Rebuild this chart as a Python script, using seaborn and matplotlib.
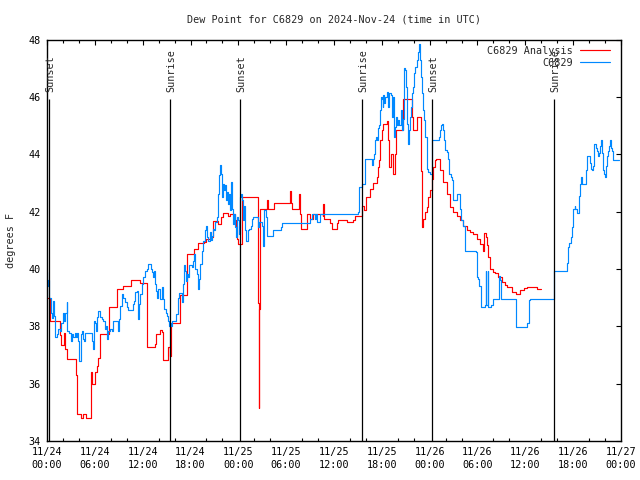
import matplotlib
matplotlib.use("Agg")
import matplotlib.pyplot as plt
from matplotlib.ticker import FixedLocator
import seaborn as sns
import pandas as pd

# ---------------- data (hours since 11/24 00:00 UTC, degrees F) ----------------
analysis_hours = [0.0, 0.35, 1.6, 1.8, 2.1, 2.3, 2.55, 3.64, 3.8, 4.3, 4.5, 4.85, 5.48, 5.65, 6.05, 6.3,
                  6.45, 6.6, 7.82, 8.82, 9.58, 10.5, 11.67, 12.6, 13.55, 13.7, 14.2, 14.45, 14.6, 15.14,
                  15.42, 15.52, 16.69, 17.6, 18.44, 18.99, 19.7, 19.95, 20.4, 20.79, 21.5, 21.83, 22.12,
                  22.75, 22.96, 23.59, 23.75, 23.88, 24.0, 24.5, 26.5, 26.55, 26.62, 26.7, 27.56, 27.77,
                  28.48, 29.65, 30.45, 30.6, 30.7, 31.55, 31.7, 31.83, 32.58, 33.0, 33.42, 34.6, 34.67,
                  34.8, 35.5, 35.72, 36.35, 36.55, 37.6, 38.43, 38.64, 39.48, 39.77, 40.03, 40.53, 40.94,
                  41.36, 41.49, 41.61, 41.78, 41.99, 42.2, 42.7, 42.83, 42.95, 43.12, 43.37, 43.66, 43.79,
                  44.7, 45.76, 45.88, 46.46, 46.89, 47.0, 47.22, 47.43, 47.64, 47.85, 48.06, 48.26, 48.47,
                  48.68, 48.8, 49.31, 49.73, 50.15, 50.56, 50.98, 51.4, 51.82, 52.23, 52.66, 53.1, 53.49,
                  53.91, 54.33, 54.74, 54.8, 55.04, 55.17, 55.37, 55.58, 55.9, 56.21, 56.63, 57.05, 57.4,
                  57.68, 58.31, 58.8, 59.35, 59.8, 60.19, 61.02, 61.5, 61.94]
analysis_values = [39.0, 38.2, 37.7, 37.35, 37.75, 37.2, 36.85, 36.3, 34.93, 34.8, 34.95, 34.8, 36.4, 36.0,
                   36.4, 36.6, 36.9, 37.73, 38.66, 39.3, 39.42, 39.6, 39.5, 37.28, 37.38, 37.73, 37.87,
                   37.8, 36.82, 37.28, 36.95, 38.1, 39.1, 40.52, 40.7, 40.9, 40.95, 41.05, 41.1, 41.66,
                   41.55, 41.8, 41.94, 41.85, 41.92, 41.7, 41.5, 41.05, 40.87, 42.5, 38.8, 35.15, 38.6,
                   42.1, 42.4, 42.1, 42.3, 42.3, 42.7, 42.3, 42.1, 42.6, 41.9, 41.38, 41.92, 41.75, 41.92,
                   41.85, 42.25, 41.75, 41.6, 41.4, 41.6, 41.7, 41.65, 41.7, 41.86, 42.2, 42.05, 42.5,
                   42.8, 43.0, 43.2, 43.55, 43.8, 44.49, 44.84, 45.07, 45.15, 44.5, 43.55, 44.0, 43.32,
                   44.0, 44.84, 45.94, 45.3, 44.84, 45.3, 43.4, 41.45, 41.75, 41.98, 42.15, 42.5, 42.75,
                   43.15, 43.55, 43.8, 43.85, 43.44, 43.03, 42.62, 42.15, 41.98, 41.85, 41.69, 41.51,
                   41.36, 41.28, 41.22, 41.05, 40.87, 40.64, 41.24, 41.1, 40.85, 40.4, 40.0, 39.9, 39.85,
                   39.71, 39.55, 39.45, 39.36, 39.2, 39.12, 39.25, 39.33, 39.38, 39.36, 39.3, 39.3]

obs_hours = [0.0, 0.05, 0.15, 0.29, 0.46, 0.6, 0.71, 0.88, 1.0, 1.21, 1.42, 1.6, 1.72, 1.97, 2.13, 2.26,
             2.47, 2.55, 2.8, 2.97, 3.1, 3.3, 3.45, 3.64, 3.81, 3.93, 4.06, 4.22, 4.35, 4.48, 4.6, 4.77,
             5.6, 5.73, 5.9, 6.05, 6.15, 6.32, 6.44, 6.65, 6.85, 7.07, 7.28, 7.38, 7.49, 7.6, 7.7, 7.9,
             8.1, 8.32, 8.95, 9.08, 9.16, 9.37, 9.58, 9.79, 10.0, 10.2, 10.75, 10.9, 11.04, 11.25, 11.46,
             11.59, 11.7, 11.88, 12.09, 12.3, 12.5, 12.71, 12.9, 13.0, 13.13, 13.26, 13.43, 13.55, 13.68,
             13.8, 13.97, 14.18, 14.39, 14.51, 14.68, 14.89, 15.0, 15.14, 15.3, 15.43, 15.52, 15.64,
             16.19, 16.48, 16.6, 16.9, 17.02, 17.1, 17.23, 17.36, 17.44, 17.6, 17.73, 17.86, 18.19,
             18.36, 18.49, 18.61, 18.78, 18.9, 19.03, 19.2, 19.41, 19.61, 19.82, 19.95, 20.12, 20.24,
             20.45, 20.58, 20.7, 20.87, 21.0, 21.12, 21.29, 21.5, 21.62, 21.75, 21.83, 21.96, 22.04,
             22.21, 22.33, 22.46, 22.54, 22.67, 22.79, 22.96, 23.05, 23.17, 23.3, 23.46, 23.59, 23.71,
             23.88, 24.0, 24.13, 24.22, 24.34, 24.47, 24.63, 24.76, 24.88, 25.01, 25.26, 25.38, 25.56,
             25.68, 25.8, 26.51, 26.64, 26.94, 27.06, 27.14, 27.23, 27.35, 27.48, 27.56, 28.19, 28.4,
             29.24, 29.32, 29.48, 33.0, 33.21, 33.63, 33.75, 33.92, 34.25, 39.06, 39.19, 39.48, 39.9,
             40.74, 40.86, 41.0, 41.15, 41.28, 41.37, 41.49, 41.61, 41.78, 41.91, 42.03, 42.12, 42.2,
             42.32, 42.45, 42.62, 42.75, 42.83, 42.95, 43.12, 43.25, 43.37, 43.54, 43.66, 43.79, 43.95,
             44.08, 44.2, 44.38, 44.5, 44.63, 44.79, 44.92, 45.04, 45.13, 45.26, 45.38, 45.55, 45.67,
             45.8, 45.96, 46.09, 46.21, 46.38, 46.51, 46.64, 46.72, 46.8, 46.93, 47.05, 47.22, 47.34,
             47.47, 47.64, 47.85, 48.06, 48.26, 48.35, 49.22, 49.31, 49.4, 49.6, 49.73, 49.81, 49.94,
             50.2, 50.36, 50.48, 50.65, 50.78, 50.9, 51.4, 51.82, 51.9, 52.23, 52.45, 53.83, 53.91,
             54.12, 54.24, 54.41, 54.96, 55.08, 55.12, 55.29, 55.37, 55.71, 55.92, 56.63, 56.75, 56.84,
             56.92, 58.85, 60.1, 60.19, 60.4, 60.6, 63.53, 63.6, 63.65, 65.12, 65.2, 65.29, 65.41,
             65.54, 65.7, 65.83, 65.96, 66.04, 66.17, 66.29, 66.46, 66.67, 66.79, 66.88, 67.0, 67.13,
             67.29, 67.59, 67.72, 67.92, 68.05, 68.22, 68.34, 68.55, 68.67, 68.84, 68.97, 69.09, 69.22,
             69.39, 69.51, 69.64, 69.72, 69.89, 70.01, 70.14, 70.23, 70.43, 70.55, 70.64, 70.77, 70.89,
             71.05, 71.72]
obs_values = [39.9, 39.42, 39.6, 39.0, 38.48, 38.3, 38.89, 38.37, 37.61, 37.73, 37.9, 37.84, 38.13, 38.48,
              38.19, 38.48, 38.83, 37.84, 37.78, 37.49, 37.73, 37.61, 37.78, 37.61, 37.78, 37.49, 36.79,
              37.73, 37.84, 37.55, 37.49, 37.78, 37.49, 37.2, 38.19, 38.13, 37.84, 38.31, 38.54, 38.31,
              38.25, 38.19, 37.9, 38.02, 37.55, 37.61, 37.84, 37.9, 37.84, 38.19, 37.84, 38.25, 38.72,
              39.13, 39.0, 38.83, 38.67, 38.57, 38.78, 38.89, 39.18, 39.24, 38.25, 38.78, 39.13, 39.48,
              39.71, 39.94, 40.0, 40.17, 40.17, 40.0, 39.88, 39.71, 39.94, 39.48, 39.24, 39.0, 39.3,
              38.95, 39.36, 38.95, 38.6, 38.48, 38.37, 38.19, 38.02, 38.13, 38.02, 38.19, 38.43, 39.0,
              39.15, 38.83, 39.0, 39.48, 40.12, 39.94, 39.59, 39.82, 39.71, 40.12, 40.06, 40.29, 40.52,
              40.0, 39.82, 39.3, 39.65, 40.17, 40.64, 40.99, 41.34, 41.51, 41.1, 40.99, 41.28, 41.01,
              41.16, 41.4, 41.34, 41.63, 41.8, 42.62, 43.26, 43.61, 43.32, 42.5, 42.97, 42.74, 42.91,
              42.39, 42.68, 42.27, 42.62, 42.04, 43.03, 42.1, 41.57, 41.92, 41.45, 41.1, 41.8, 41.69,
              41.22, 42.5, 42.62, 42.39, 41.69, 42.21, 41.34, 40.99, 41.34, 41.4, 41.51, 41.75, 41.8,
              41.45, 41.63, 41.51, 40.99, 40.81, 42.06, 42.04, 41.8, 41.16, 41.16, 41.34, 41.34, 41.45,
              41.6, 41.75, 41.9, 41.75, 41.9, 41.63, 41.9, 41.98, 42.85, 42.97, 43.85, 43.61, 43.85,
              44.02, 44.49, 44.6, 44.49, 44.9, 45.01, 45.53, 46.0, 45.94, 45.65, 46.06, 45.77, 46.0,
              46.17, 45.94, 45.65, 46.12, 46.06, 45.3, 46.0, 44.6, 44.95, 45.3, 45.01, 45.19, 45.01,
              45.53, 44.84, 45.24, 46.99, 46.93, 46.35, 45.07, 44.37, 44.84, 45.3, 45.65, 46.12, 46.35,
              46.82, 47.05, 47.28, 47.57, 47.69, 47.84, 47.28, 46.7, 46.12, 45.53, 45.19, 44.6, 43.5,
              43.38, 43.32, 43.38, 44.49, 44.6, 44.84, 45.01, 45.07, 44.84, 44.49, 44.14, 44.08, 43.85,
              43.32, 43.2, 43.09, 42.39, 42.62, 42.1, 41.69, 41.51, 40.64, 40.6, 39.71, 39.65, 39.42,
              38.66, 38.75, 39.94, 38.75, 39.94, 38.66, 38.75, 38.95, 38.95, 39.77, 39.6, 38.95, 37.96,
              37.96, 38.1, 38.9, 38.95, 38.95, 39.45, 39.94, 39.94, 40.2, 40.41, 40.76, 40.9, 41.1, 41.45,
              41.8, 42.1, 42.2, 42.1, 41.94, 42.1, 42.56, 42.97, 43.2, 42.97, 42.95, 43.44, 43.93, 43.93,
              43.7, 43.5, 43.44, 43.6, 44.37, 44.2, 44.1, 43.93, 44.05, 44.3, 44.51, 44.05, 43.44, 43.3,
              43.2, 43.6, 43.95, 44.1, 44.3, 44.49, 44.2, 44.1, 43.81, 43.81]

sun_hours = [0.29, 15.47, 24.26, 39.56, 48.35, 63.65]
sun_labels = ["Sunset", "Sunrise", "Sunset", "Sunrise", "Sunset", "Sunrise"]

x_tick_hours = [0, 6, 12, 18, 24, 30, 36, 42, 48, 54, 60, 66, 72]
x_tick_labels = ["11/24\n00:00", "11/24\n06:00", "11/24\n12:00", "11/24\n18:00",
                 "11/25\n00:00", "11/25\n06:00", "11/25\n12:00", "11/25\n18:00",
                 "11/26\n00:00", "11/26\n06:00", "11/26\n12:00", "11/26\n18:00",
                 "11/27\n00:00"]
y_ticks = [34, 36, 38, 40, 42, 44, 46, 48]

title_text = "Dew Point for C6829 on 2024-Nov-24 (time in UTC)"
y_label = "degrees F"
series_labels = ["C6829 Analysis", "C6829"]

# ---------------- figure ----------------
sns.set_style("white")
plt.rcParams['font.family'] = ['DejaVu Sans Mono']
FS = 7.3

fig = plt.figure(figsize=(6.4, 4.8), dpi=100)
fig.patch.set_facecolor("white")
ax = fig.add_axes([47 / 640, 1 - 441 / 480, 574 / 640, 401.5 / 480])

df_a = pd.DataFrame({"hour": analysis_hours, "value": analysis_values})
df_o = pd.DataFrame({"hour": obs_hours, "value": obs_values})

sns.lineplot(data=df_a, x="hour", y="value", ax=ax, color="#ff0000", lw=0.85,
             drawstyle="steps-post", estimator=None, sort=False, label=series_labels[0], zorder=2)
sns.lineplot(data=df_o, x="hour", y="value", ax=ax, color="#0088ff", lw=0.85,
             drawstyle="steps-post", estimator=None, sort=False, label=series_labels[1], zorder=2)

ax.set_xlim(0, 72)
ax.set_ylim(34, 48)

# sunrise / sunset markers
ax.vlines(sun_hours, 34, 45.92, colors="black", lw=0.9, zorder=3)
for h, lab in zip(sun_hours, sun_labels):
    ax.text(h + 0.1, 46.17, lab, rotation=90, ha="center", va="bottom", fontsize=FS, zorder=3)

ax.set_xticks(x_tick_hours)
ax.set_xticklabels(x_tick_labels, fontsize=FS, linespacing=1.35)
ax.xaxis.set_minor_locator(FixedLocator([h for h in range(0, 73, 2) if h % 6 != 0]))
ax.set_yticks(y_ticks)
ax.set_yticklabels([str(v) for v in y_ticks], fontsize=FS)
ax.tick_params(axis="both", which="major", direction="in", top=True, right=True,
               length=3.3, width=0.8, colors="black", pad=4.5)
ax.tick_params(axis="x", which="minor", direction="in", top=True, bottom=True,
               length=2.2, width=0.8, colors="black")
for s in ax.spines.values():
    s.set_color("black")
    s.set_linewidth(1.0)

ax.set_xlabel("")
ax.set_ylabel("")
fig.text(11 / 640, 1 - 240 / 480, y_label, rotation=90, ha="center", va="center", fontsize=FS)
fig.text(334 / 640, 1 - 19.5 / 480, title_text, ha="center", va="center", fontsize=FS)

leg = ax.legend(loc="upper right", bbox_to_anchor=(1 - 3 / 574, 1 + 2 / 401.5),
                frameon=False, markerfirst=False, fontsize=FS,
                handlelength=2.9, handletextpad=0.75, labelspacing=0.2,
                borderaxespad=0.3, borderpad=0.5)
for line in leg.get_lines():
    line.set_linewidth(0.85)
leg.set_zorder(5)

fig.savefig("out.png", dpi=100, facecolor="white")
